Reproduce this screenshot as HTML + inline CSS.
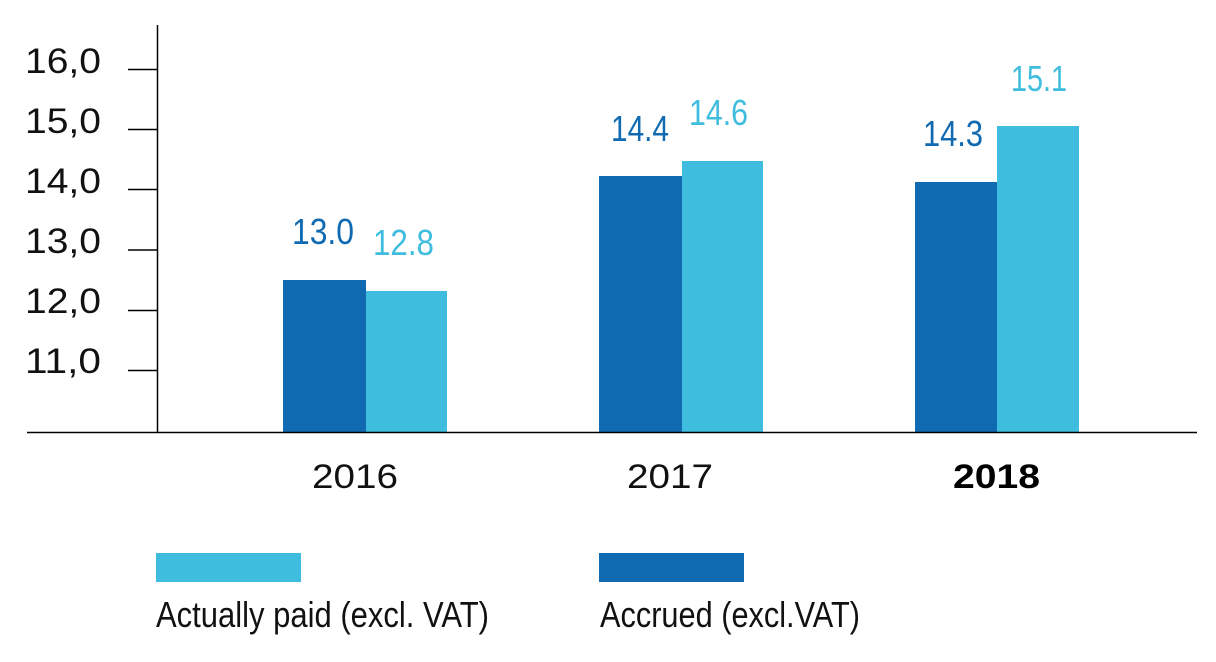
<!DOCTYPE html>
<html>
<head>
<meta charset="utf-8">
<style>
  html,body{margin:0;padding:0;background:#fff;}
  body{width:1216px;height:662px;overflow:hidden;}
  svg{display:block;}
  text{font-family:"Liberation Sans",sans-serif;}
</style>
</head>
<body>
<svg width="1216" height="662" viewBox="0 0 1216 662" xmlns="http://www.w3.org/2000/svg">
  <!-- bars -->
  <rect x="283" y="280" width="83" height="152" fill="#106AB1"/>
  <rect x="366" y="291" width="81" height="141" fill="#3FBDDE"/>
  <rect x="599" y="176" width="83" height="256" fill="#106AB1"/>
  <rect x="682" y="161" width="81" height="271" fill="#3FBDDE"/>
  <rect x="915" y="182" width="82" height="250" fill="#106AB1"/>
  <rect x="997" y="126" width="82" height="306" fill="#3FBDDE"/>

  <!-- axes -->
  <line x1="157.5" y1="25" x2="157.5" y2="432" stroke="#000" stroke-width="1.5"/>
  <line x1="27" y1="432.5" x2="1197" y2="432.5" stroke="#000" stroke-width="1.5"/>
  <g stroke="#000" stroke-width="1.5">
    <line x1="128" y1="69.5" x2="157" y2="69.5"/>
    <line x1="128" y1="129.5" x2="157" y2="129.5"/>
    <line x1="128" y1="189.5" x2="157" y2="189.5"/>
    <line x1="128" y1="250" x2="157" y2="250"/>
    <line x1="128" y1="310.5" x2="157" y2="310.5"/>
    <line x1="128" y1="370.5" x2="157" y2="370.5"/>
  </g>

  <!-- y tick labels -->
  <g font-size="35" fill="#111">
    <text x="25" y="73" textLength="76" lengthAdjust="spacingAndGlyphs">16,0</text>
    <text x="25" y="133" textLength="76" lengthAdjust="spacingAndGlyphs">15,0</text>
    <text x="25" y="193" textLength="76" lengthAdjust="spacingAndGlyphs">14,0</text>
    <text x="25" y="253" textLength="76" lengthAdjust="spacingAndGlyphs">13,0</text>
    <text x="25" y="313" textLength="76" lengthAdjust="spacingAndGlyphs">12,0</text>
    <text x="25" y="373" textLength="76" lengthAdjust="spacingAndGlyphs">11,0</text>
  </g>

  <!-- value labels -->
  <g font-size="36">
    <text x="292" y="244" fill="#106AB1" textLength="62" lengthAdjust="spacingAndGlyphs">13.0</text>
    <text x="373" y="255" fill="#3FBDDE" textLength="61" lengthAdjust="spacingAndGlyphs">12.8</text>
    <text x="611" y="141" fill="#106AB1" textLength="58" lengthAdjust="spacingAndGlyphs">14.4</text>
    <text x="689" y="125" fill="#3FBDDE" textLength="59" lengthAdjust="spacingAndGlyphs">14.6</text>
    <text x="923" y="146" fill="#106AB1" textLength="60" lengthAdjust="spacingAndGlyphs">14.3</text>
    <text x="1011" y="91" fill="#3FBDDE" textLength="56" lengthAdjust="spacingAndGlyphs">15.1</text>
  </g>

  <!-- x labels -->
  <g font-size="34" fill="#111">
    <text x="312" y="488" textLength="86" lengthAdjust="spacingAndGlyphs">2016</text>
    <text x="627" y="488" textLength="86" lengthAdjust="spacingAndGlyphs">2017</text>
    <text x="953" y="488" font-weight="bold" fill="#000" textLength="87" lengthAdjust="spacingAndGlyphs">2018</text>
  </g>

  <!-- legend -->
  <rect x="156" y="553" width="145" height="29" fill="#3FBDDE"/>
  <rect x="599" y="553" width="145" height="29" fill="#106AB1"/>
  <g font-size="36" fill="#111">
    <text x="156" y="627" textLength="333" lengthAdjust="spacingAndGlyphs">Actually paid (excl. VAT)</text>
    <text x="600" y="627" textLength="260" lengthAdjust="spacingAndGlyphs">Accrued (excl.VAT)</text>
  </g>
</svg>
</body>
</html>
